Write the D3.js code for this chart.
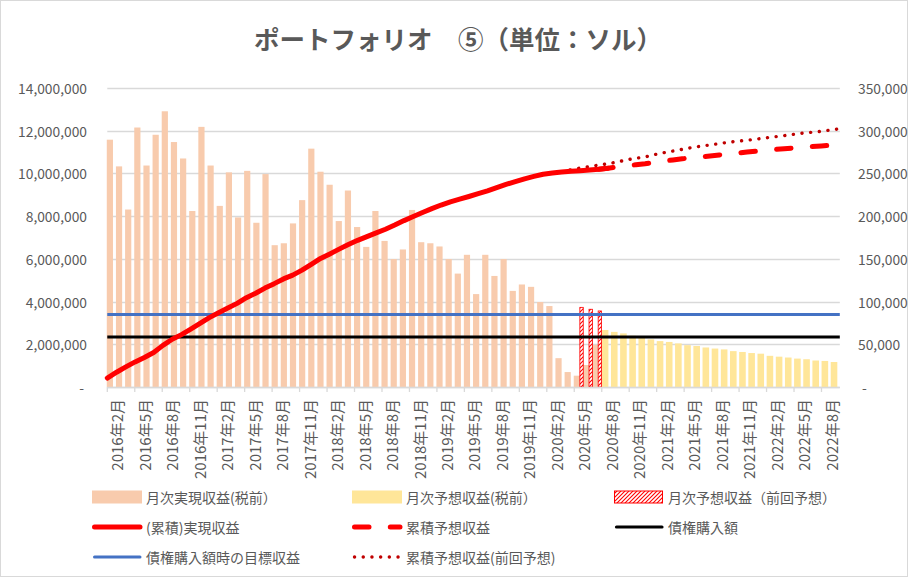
<!DOCTYPE html>
<html>
<head>
<meta charset="utf-8">
<script src="https://cdn.jsdelivr.net/npm/d3@7"></script>
<style>
body { margin: 0; background: #fff; }
text { font-family: "Noto Sans CJK JP", "Noto Sans", sans-serif; fill: #595959; }
</style>
</head>
<body>
<div id="chart"></div>
<script>
// months 2016年2月 .. 2022年9月
var months = [];
for (var i = 0; i < 80; i++) {
    months.push((2016 + Math.floor((i + 1) / 12)) + "年" + ((i + 1) % 12 + 1) + "月");
}

// 月次実現収益(税前) from 2016年2月
var realized = [11580000, 10330000, 8310000, 12150000, 10370000, 11810000, 12910000, 11470000, 10700000, 8240000,
    12180000, 10370000, 8480000, 10050000, 7940000, 10120000, 7690000, 9970000, 6640000, 6730000,
    7660000, 8750000, 11160000, 10080000, 9470000, 7770000, 9200000, 7490000, 6560000, 8240000,
    6840000, 5990000, 6440000, 8290000, 6780000, 6730000, 6580000, 5990000, 5310000, 6190000,
    4350000, 6190000, 5200000, 5990000, 4500000, 4800000, 4690000, 3980000, 3790000, 1350000,
    700000, 530000, 1030000, 1970000];
var realizedStart = "2016年2月";

// 月次予想収益(税前) from 2020年8月
var forecast = [2670000, 2580000, 2510000, 2400000, 2330000, 2230000, 2150000, 2110000, 2040000, 1960000,
    1920000, 1850000, 1800000, 1760000, 1680000, 1640000, 1590000, 1560000, 1460000, 1420000,
    1380000, 1330000, 1300000, 1240000, 1220000, 1170000];
var forecastStart = "2020年8月";

// 月次予想収益（前回予想） from 2020年5月
var prevForecast = [3730000, 3640000, 3560000];
var prevForecastStart = "2020年5月";

// (累積)実現収益 - right axis, from 2016年2月
var cumRealized = [10500, 17300, 23500, 29400, 34600, 40300, 48700, 55900, 61300, 67700,
    74400, 81200, 87000, 92400, 97900, 104500, 109800, 115800, 121000, 126500,
    130900, 136800, 143500, 150500, 155800, 161400, 166800, 171700, 176100, 180400,
    184700, 189600, 194800, 199500, 204300, 208800, 213000, 216800, 219900, 223000,
    226300, 229700, 233500, 237200, 240400, 243700, 246500, 249100, 250500, 251700,
    252600, 253200, 254000, 254800, 256000];

// 累積予想収益 - right axis, from 2020年7月
var cumForecast = [254800, 256000, 257500, 259000, 260200, 261400, 262900, 264400, 265800, 267100,
    268200, 269300, 270400, 271600, 272800, 273900, 275100, 276100, 277100, 278000,
    279000, 279800, 280600, 281400, 282200, 282900, 283500];
var cumForecastStart = "2020年7月";

// 累積予想収益(前回予想) - right axis, from 2020年3月
var cumPrevForecast = [251700, 254200, 256300, 258000, 259700, 261300, 263400, 265900, 267700, 269300,
    272000, 274200, 276200, 278200, 280200, 281800, 283300, 284900, 286500, 287800,
    288800, 290100, 291600, 292900, 294200, 295700, 297200, 298200, 299300, 300800, 302300];
var cumPrevForecastStart = "2020年3月";

var bondPurchase = 2340000;   // 債権購入額
var targetIncome = 3400000;   // 債権購入額時の目標収益

var leftTicks = [0, 2000000, 4000000, 6000000, 8000000, 10000000, 12000000, 14000000];
var rightTicks = [0, 50000, 100000, 150000, 200000, 250000, 300000, 350000];

function init(){
    var w = 908, h = 577;
    var pLeft = 107.3, pRight = 839.8, pTop = 88, pBottom = 387;

    function toSeries(values, start) {
        var s = months.indexOf(start);
        return values.map(function(v, i) { return {m: months[s + i], v: v}; });
    }

    var svg = d3.select("#chart").append("svg")
        .attr("width", w)
        .attr("height", h);

    svg.append("rect").attr("x", 0.5).attr("y", 0.5).attr("width", w - 1).attr("height", h - 1)
        .attr("fill", "#fff").attr("stroke", "#d9d9d9");

    var defs = svg.append("defs");
    var pat = defs.append("pattern")
        .attr("id", "hatch")
        .attr("patternUnits", "userSpaceOnUse")
        .attr("width", 4).attr("height", 4);
    pat.append("rect").attr("width", 4).attr("height", 4).attr("fill", "#fff");
    pat.append("path").attr("d", "M-1,1 l2,-2 M0,4 l4,-4 M3,5 l2,-2")
        .attr("stroke", "#ff0000").attr("stroke-width", 1.1);

    var xScale = d3.scaleBand().domain(months).range([pLeft, pRight]).paddingInner(0).paddingOuter(0);
    var xLine = d3.scalePoint().domain(months).range([pLeft, pRight]).padding(0);
    var yLeft = d3.scaleLinear().domain([0, 14000000]).range([pBottom, pTop]);
    var yRight = d3.scaleLinear().domain([0, 350000]).range([pBottom, pTop]);
    var bw = xScale.bandwidth();

    // title
    svg.append("text")
        .attr("x", 458).attr("y", 49)
        .attr("text-anchor", "middle")
        .style("font-size", "25.5px")
        .style("font-weight", "bold")
        .text("ポートフォリオ　⑤（単位：ソル）");

    // gridlines
    svg.selectAll(".grid")
        .data(leftTicks)
        .enter()
        .append("line")
        .attr("x1", pLeft).attr("x2", pRight)
        .attr("y1", function(d){ return Math.round(yLeft(d)) + 0.5; })
        .attr("y2", function(d){ return Math.round(yLeft(d)) + 0.5; })
        .attr("stroke", "#d9d9d9")
        .attr("stroke-width", 1.3);

    var fmt = function(d){ return d === 0 ? "-" : d3.format(",")(d); };

    svg.selectAll(".ltick")
        .data(leftTicks)
        .enter()
        .append("text")
        .attr("x", function(d){ return d === 0 ? 84 : 87; })
        .attr("y", function(d){ return yLeft(d); })
        .attr("text-anchor", "end")
        .attr("dominant-baseline", "central")
        .style("font-size", "13.8px")
        .text(fmt);

    svg.selectAll(".rtick")
        .data(rightTicks)
        .enter()
        .append("text")
        .attr("x", function(d){ return d === 0 ? 862 : 858; })
        .attr("y", function(d){ return yRight(d); })
        .attr("text-anchor", "start")
        .attr("dominant-baseline", "central")
        .style("font-size", "13.8px")
        .text(fmt);

    // x tick marks and labels
    var labelMonths = months.filter(function(d, i){ return i % 3 === 0; });
    svg.selectAll(".xtick")
        .data(labelMonths)
        .enter()
        .append("line")
        .attr("x1", function(d){ return xScale(d); })
        .attr("x2", function(d){ return xScale(d); })
        .attr("y1", pBottom).attr("y2", pBottom + 5)
        .attr("stroke", "#d9d9d9").attr("stroke-width", 1.3);

    svg.selectAll(".xlabel")
        .data(labelMonths)
        .enter()
        .append("text")
        .attr("transform", function(d){
            return "translate(" + (xScale(d) + bw / 2 + 5) + "," + 399 + ") rotate(-90)";
        })
        .attr("text-anchor", "end")
        .attr("dominant-baseline", "central")
        .style("font-size", "15px")
        .text(function(d){ return d; });

    // bars
    svg.selectAll(".real")
        .data(toSeries(realized, realizedStart))
        .enter()
        .append("rect")
        .attr("x", function(d){ return xScale(d.m) + bw / 2 - 2 - 3.1; })
        .attr("y", function(d){ return yLeft(d.v); })
        .attr("width", 6.2)
        .attr("height", function(d){ return pBottom - yLeft(d.v); })
        .attr("fill", "#f8cbad");

    svg.selectAll(".fore")
        .data(toSeries(forecast, forecastStart))
        .enter()
        .append("rect")
        .attr("x", function(d){ return xScale(d.m) + bw / 2 - 1.2 - 3.3; })
        .attr("y", function(d){ return yLeft(d.v); })
        .attr("width", 6.6)
        .attr("height", function(d){ return pBottom - yLeft(d.v); })
        .attr("fill", "#ffe699");

    svg.selectAll(".prev")
        .data(toSeries(prevForecast, prevForecastStart))
        .enter()
        .append("rect")
        .attr("x", function(d){ return xScale(d.m) + bw / 2 + 2.7 - 1.7; })
        .attr("y", function(d){ return yLeft(d.v); })
        .attr("width", 3.4)
        .attr("height", function(d){ return pBottom - yLeft(d.v); })
        .attr("fill", "url(#hatch)")
        .attr("stroke", "#ff0000")
        .attr("stroke-width", 0.8);

    // axis line
    svg.append("line")
        .attr("x1", pLeft).attr("x2", pRight)
        .attr("y1", pBottom + 0.5).attr("y2", pBottom + 0.5)
        .attr("stroke", "#d9d9d9").attr("stroke-width", 1.3);

    // flat lines
    svg.append("line")
        .attr("x1", pLeft).attr("x2", pRight)
        .attr("y1", yLeft(targetIncome)).attr("y2", yLeft(targetIncome))
        .attr("stroke", "#4472c4").attr("stroke-width", 3);
    svg.append("line")
        .attr("x1", pLeft).attr("x2", pRight)
        .attr("y1", yLeft(bondPurchase)).attr("y2", yLeft(bondPurchase))
        .attr("stroke", "#000").attr("stroke-width", 3.2);

    var line = d3.line()
        .x(function(d){ return xLine(d.m); })
        .y(function(d){ return yRight(d.v); });

    svg.append("path")
        .datum(toSeries(cumPrevForecast, cumPrevForecastStart))
        .attr("d", line)
        .attr("fill", "none")
        .attr("stroke", "#c00000")
        .attr("stroke-width", 3.4)
        .attr("stroke-linecap", "round")
        .attr("stroke-dasharray", "0.1 8.6");

    svg.append("path")
        .datum(toSeries(cumForecast, cumForecastStart))
        .attr("d", line)
        .attr("fill", "none")
        .attr("stroke", "#ff0000")
        .attr("stroke-width", 5)
        .attr("stroke-linecap", "round")
        .attr("stroke-dasharray", "14.5 21.3");

    svg.append("path")
        .datum(toSeries(cumRealized, realizedStart))
        .attr("d", line)
        .attr("fill", "none")
        .attr("stroke", "#ff0000")
        .attr("stroke-width", 5)
        .attr("stroke-linejoin", "round")
        .attr("stroke-linecap", "round");

    // legend
    var legend = [
        {name: "月次実現収益(税前）", type: "rect", fill: "#f8cbad", col: 0, row: 0},
        {name: "月次予想収益(税前）", type: "rect", fill: "#ffe699", col: 1, row: 0},
        {name: "月次予想収益（前回予想）", type: "hatch", col: 2, row: 0},
        {name: "(累積)実現収益", type: "line", stroke: "#ff0000", sw: 5, col: 0, row: 1},
        {name: "累積予想収益", type: "line", stroke: "#ff0000", sw: 5, dash: "14.5 21.3", col: 1, row: 1},
        {name: "債権購入額", type: "line", stroke: "#000", sw: 3.2, col: 2, row: 1},
        {name: "債権購入額時の目標収益", type: "line", stroke: "#4472c4", sw: 3, col: 0, row: 2},
        {name: "累積予想収益(前回予想)", type: "line", stroke: "#c00000", sw: 3.4, dash: "0.1 8.6", col: 1, row: 2}
    ];
    var colX = [92, 352, 614];
    var rowY = [497, 527, 557];

    legend.forEach(function(d){
        var x = colX[d.col], y = rowY[d.row];
        if (d.type === "rect") {
            svg.append("rect").attr("x", x).attr("y", y - 6.5).attr("width", 50).attr("height", 13).attr("fill", d.fill);
        } else if (d.type === "hatch") {
            svg.append("rect").attr("x", x + 0.5).attr("y", y - 6).attr("width", 48).attr("height", 12)
                .attr("fill", "url(#hatch)").attr("stroke", "#ff0000").attr("stroke-width", 1);
        } else {
            svg.append("line").attr("x1", x + 2.5).attr("x2", x + 48).attr("y1", y).attr("y2", y)
                .attr("stroke", d.stroke).attr("stroke-width", d.sw)
                .attr("stroke-linecap", "round")
                .attr("stroke-dasharray", d.dash || null);
        }
        svg.append("text")
            .attr("x", x + 54).attr("y", y)
            .attr("dominant-baseline", "central")
            .style("font-size", "14px")
            .text(d.name);
    });
}
window.onload = init;
</script>
</body>
</html>
